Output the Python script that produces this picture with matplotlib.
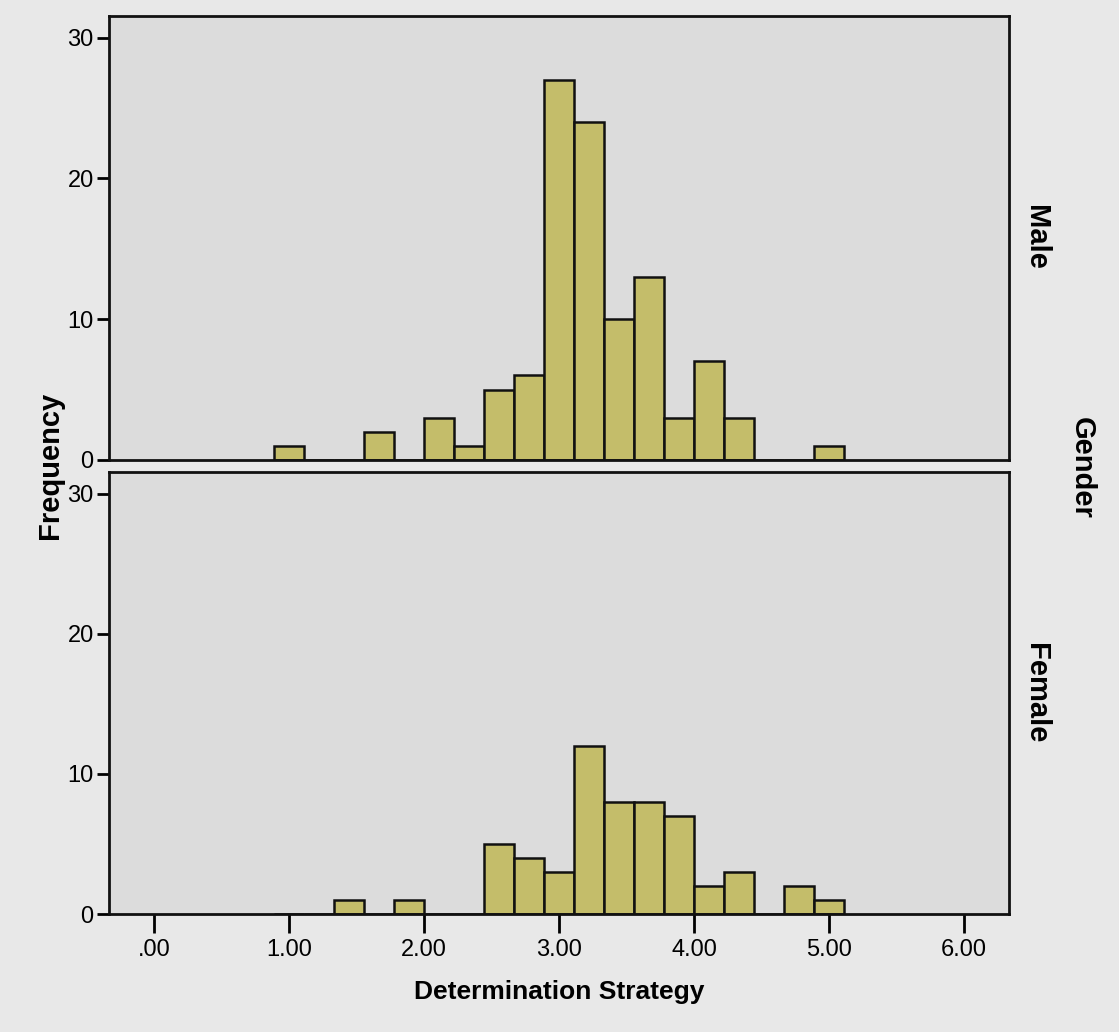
import numpy as np
import matplotlib
matplotlib.use("Agg")
import matplotlib.pyplot as plt

# Histogram counts per bin (bin width 2/9, first bin starts at 8/9)
bin_width = 2 / 9
bin_left = np.arange(4, 23) * bin_width
male_counts = [1, 0, 0, 2, 0, 3, 1, 5, 6, 27, 24, 10, 13, 3, 7, 3, 0, 0, 1]
female_counts = [0, 0, 1, 0, 1, 0, 0, 5, 4, 3, 12, 8, 8, 7, 2, 3, 0, 2, 1]
panels = ["Male", "Female"]
x_ticks = [0, 1, 2, 3, 4, 5, 6]
x_ticklabels = [".00", "1.00", "2.00", "3.00", "4.00", "5.00", "6.00"]
y_ticks = [0, 10, 20, 30]

bar_color = "#c4bd6a"
fig_bg = "#e8e8e8"
ax_bg = "#dcdcdc"
narrow = ["Liberation Sans Narrow", "Liberation Sans", "DejaVu Sans"]
bold = ["Liberation Sans", "DejaVu Sans"]

fig = plt.figure(figsize=(11.19, 10.32), dpi=100, facecolor=fig_bg)
ax_top = fig.add_axes([0.0974, 0.5543, 0.8043, 0.4305])
ax_bot = fig.add_axes([0.0974, 0.1143, 0.8043, 0.4283])

for ax, counts, name in zip([ax_top, ax_bot], [male_counts, female_counts], panels):
    ax.set_facecolor(ax_bg)
    ax.bar(bin_left, counts, width=bin_width, align="edge", color=bar_color,
           edgecolor="#111111", linewidth=1.8)
    ax.set_xlim(-1 / 3, 6 + 1 / 3)
    ax.set_ylim(0, 31.55)
    ax.set_yticks(y_ticks)
    ax.set_yticklabels([str(v) for v in y_ticks], family=narrow, fontsize=17)
    ax.tick_params(axis="y", direction="out", length=9, width=2, pad=2)
    for sp in ax.spines.values():
        sp.set_linewidth(2)
        sp.set_color("#111111")
    ax.text(1.03, 0.5, name, transform=ax.transAxes, rotation=270,
            ha="center", va="center", fontsize=21, fontweight="bold", family=bold)

ax_top.set_xticks([])
ax_bot.set_xticks(x_ticks)
ax_bot.set_xticklabels(x_ticklabels, family=narrow, fontsize=17)
ax_bot.tick_params(axis="x", direction="out", length=14, width=2, pad=4)

fig.text(0.0447, 0.549, "Frequency", rotation=90, ha="center", va="center",
         fontsize=21, fontweight="bold", family=bold)
fig.text(0.967, 0.547, "Gender", rotation=270, ha="center", va="center",
         fontsize=21, fontweight="bold", family=bold)
fig.text(0.4996, 0.039, "Determination Strategy", ha="center", va="center",
         fontsize=19, fontweight="bold", family=bold)

fig.savefig("out.png", dpi=100, facecolor=fig_bg)
